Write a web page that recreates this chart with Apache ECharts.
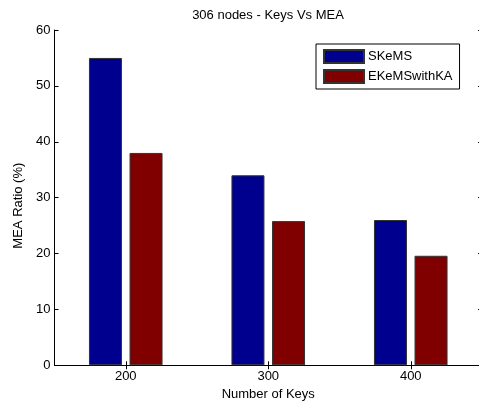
<!DOCTYPE html>
<html>
<head>
<meta charset="utf-8">
<script src="https://cdn.jsdelivr.net/npm/echarts@6/dist/echarts.min.js"></script>
<style>html,body{margin:0;padding:0;background:#fff;}#c{width:479px;height:401px;}</style>
</head>
<body>
<div id="c"></div>
<script>
const categories = ['200', '300', '400'];
const seriesNames = ['SKeMS', 'EKeMSwithKA'];
const skems = [55, 34, 26];
const ekems = [38, 25.8, 19.6];
const yTicks = { min: 0, max: 60, interval: 10 };

const FONT = 'Liberation Sans, Arial, sans-serif';
const FS = 13;
const chart = echarts.init(document.getElementById('c'), null, { renderer: 'canvas' });
const axisLine = { show: true, lineStyle: { color: '#000', width: 1 } };
const tick = { show: true, inside: true, length: 4, lineStyle: { color: '#000' } };
chart.setOption({
  animation: false,
  backgroundColor: '#fff',
  title: {
    text: '306 nodes - Keys Vs MEA',
    left: 268, top: 9, textAlign: 'center', padding: 0,
    textStyle: { fontFamily: FONT, fontSize: FS, fontWeight: 'normal', color: '#000' }
  },
  legend: {
    data: seriesNames,
    orient: 'vertical',
    left: 316, top: 44,
    itemWidth: 40, itemHeight: 13, itemGap: 5,
    padding: [5, 7, 5, 7],
    borderColor: '#000', borderWidth: 1,
    icon: 'rect',
    textStyle: { fontFamily: FONT, fontSize: FS, lineHeight: 13, color: '#000', padding: [0, 0, 0, -1] }
  },
  grid: { left: 54.5, right: -3, top: 30, bottom: 35.7, containLabel: false, outerBoundsMode: 'none' },
  xAxis: [
    {
      type: 'category', data: categories, position: 'bottom',
      axisLine: axisLine, axisTick: Object.assign({ alignWithLabel: true }, tick),
      axisLabel: { fontFamily: FONT, fontSize: FS, color: '#000', margin: 5 },
      name: 'Number of Keys', nameLocation: 'middle', nameGap: 21,
      nameTextStyle: { fontFamily: FONT, fontSize: FS, color: '#000', verticalAlign: 'top' }
    },
    {
      type: 'category', data: categories, position: 'top',
      axisLine: axisLine, axisTick: Object.assign({ alignWithLabel: true }, tick),
      axisLabel: { show: false }
    }
  ],
  yAxis: [
    {
      type: 'value', min: yTicks.min, max: yTicks.max, interval: yTicks.interval, position: 'left',
      axisLine: axisLine, axisTick: tick, splitLine: { show: false },
      axisLabel: { fontFamily: FONT, fontSize: FS, color: '#000', margin: 4 },
      name: 'MEA Ratio (%)', nameLocation: 'middle', nameGap: 24, nameRotate: 90,
      nameTextStyle: { fontFamily: FONT, fontSize: FS, color: '#000', padding: [0, 16, 0, 0] }
    },
    {
      type: 'value', min: yTicks.min, max: yTicks.max, interval: yTicks.interval, position: 'right',
      axisLine: axisLine, axisTick: tick, splitLine: { show: false },
      axisLabel: { show: false }
    }
  ],
  series: [
    {
      name: seriesNames[0], type: 'bar', data: skems, barWidth: 33, barGap: '23%',
      itemStyle: { color: '#00008F', borderColor: '#333', borderWidth: 1 }
    },
    {
      name: seriesNames[1], type: 'bar', data: ekems, barWidth: 33, barGap: '23%',
      itemStyle: { color: '#800000', borderColor: '#333', borderWidth: 1 }
    }
  ]
});
</script>
</body>
</html>
